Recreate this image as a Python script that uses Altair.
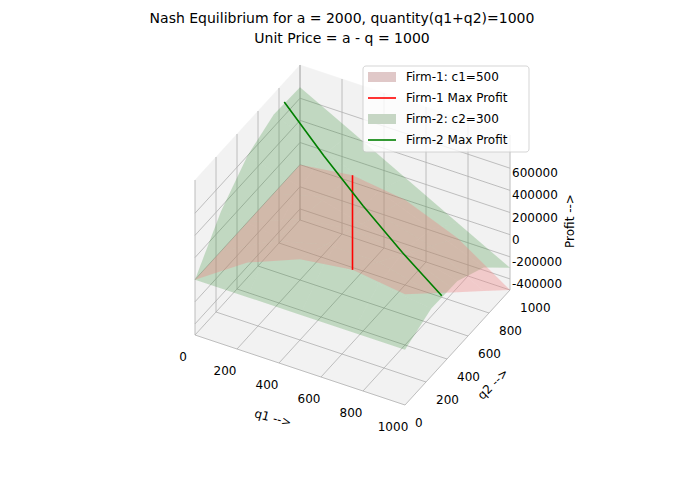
import altair as alt
import pandas as pd

Q = [0, 250, 500, 750, 1000]
# Firm-1 profit, rows q1, cols q2
P1 = [[0, 0, 0, 0, 0],
      [312500, 250000, 187500, 125000, 62500],
      [500000, 375000, 250000, 125000, 0],
      [562500, 375000, 187500, 0, -187500],
      [500000, 250000, 0, -250000, -500000]]
# Firm-2 profit, rows q2, cols q1
P2 = [[0, 0, 0, 0, 0],
      [362500, 300000, 237500, 175000, 112500],
      [600000, 475000, 350000, 225000, 100000],
      [712500, 525000, 337500, 150000, -37500],
      [700000, 450000, 200000, -50000, -300000]]
BR1_q2 = [0, 250, 500, 750, 1000]
BR1_q1 = [750, 625, 500, 375, 250]
BR1_p = [562500, 390625, 250000, 140625, 62500]
BR2_q1 = [0, 250, 500, 750, 1000]
BR2_q2 = [850, 725, 600, 475, 350]
BR2_p = [722500, 525625, 360000, 225625, 122500]
Q_TICKS = [0, 200, 400, 600, 800, 1000]
Z_TICKS = [-400000, -200000, 0, 200000, 400000, 600000]
ZMIN, ZMAX = -500000, 900000

W, H = 669, 464

def proj(q1, q2, z):
    u, v = q1 / 1000, q2 / 1000
    w = (z - ZMIN) / (ZMAX - ZMIN)
    return 187 + 210 * u + 105 * v, 327 + 70 * u - 115 * v - 155 * w

rows = []
def poly(pid, pts, kind):
    for k, (a, b, c) in enumerate(pts):
        x, y = proj(a, b, c)
        rows.append(dict(pid=pid, o=k, x=x, y=y, kind=kind))

poly("pane_floor", [(0,0,ZMIN),(1000,0,ZMIN),(1000,1000,ZMIN),(0,1000,ZMIN),(0,0,ZMIN)], "pane")
poly("pane_left", [(0,0,ZMIN),(0,1000,ZMIN),(0,1000,ZMAX),(0,0,ZMAX),(0,0,ZMIN)], "pane")
poly("pane_back", [(0,1000,ZMIN),(1000,1000,ZMIN),(1000,1000,ZMAX),(0,1000,ZMAX),(0,1000,ZMIN)], "pane")
panes = pd.DataFrame(rows); rows.clear()

for t in Q_TICKS:
    poly(f"g1{t}", [(t,0,ZMIN),(t,1000,ZMIN),(t,1000,ZMAX)], "grid")
    poly(f"g2{t}", [(0,t,ZMIN),(1000,t,ZMIN)], "grid")
    poly(f"g3{t}", [(0,t,ZMIN),(0,t,ZMAX)], "grid")
for t in Z_TICKS:
    poly(f"gz{t}", [(0,0,t),(0,1000,t),(1000,1000,t)], "grid")
grid = pd.DataFrame(rows); rows.clear()

for i in range(4):
    for j in range(4):
        poly(f"f1_{i}_{j}", [(Q[i],Q[j],P1[i][j]),(Q[i+1],Q[j],P1[i+1][j]),(Q[i+1],Q[j+1],P1[i+1][j+1]),(Q[i],Q[j+1],P1[i][j+1]),(Q[i],Q[j],P1[i][j])], "f1")
s1 = pd.DataFrame(rows); rows.clear()
for i in range(4):
    for j in range(4):
        poly(f"f2_{i}_{j}", [(Q[i],Q[j],P2[j][i]),(Q[i+1],Q[j],P2[j][i+1]),(Q[i+1],Q[j+1],P2[j+1][i+1]),(Q[i],Q[j+1],P2[j+1][i]),(Q[i],Q[j],P2[j][i])], "f2")
s2 = pd.DataFrame(rows); rows.clear()

poly("br1", list(zip(BR1_q1, BR1_q2, BR1_p)), "br1")
br1 = pd.DataFrame(rows); rows.clear()
poly("br2", list(zip(BR2_q1, BR2_q2, BR2_p)), "br2")
br2 = pd.DataFrame(rows); rows.clear()

xs = alt.Scale(domain=[0, W], nice=False, zero=False)
ys = alt.Scale(domain=[0, H], nice=False, zero=False, reverse=True)
X = alt.X("x:Q", scale=xs, axis=None)
Y = alt.Y("y:Q", scale=ys, axis=None)

def polys(df, fill, op, stroke=None, sw=0):
    kw = dict(fill=fill, fillOpacity=op, strokeWidth=sw)
    kw["stroke"] = stroke if stroke else fill
    return alt.Chart(df).mark_line(**kw).encode(X, Y, detail="pid:N", order="o:Q")

layers = [
    polys(panes, "#f2f2f2", 1.0, "#f2f2f2", 0.5),
    alt.Chart(grid).mark_line(color="#b0b0b0", strokeWidth=0.8).encode(X, Y, detail="pid:N", order="o:Q"),
    polys(s2, "#2e8b2e", 0.25, "#2e8b2e", 0.0),
    polys(s1, "#f08080", 0.35, "#f08080", 0.0),
    alt.Chart(br1).mark_line(color="red", strokeWidth=1.6).encode(X, Y, order="o:Q"),
    alt.Chart(br2).mark_line(color="green", strokeWidth=1.6).encode(X, Y, order="o:Q"),
]

lab = []
for t in Q_TICKS:
    x, y = proj(t, 0, ZMIN)
    lab.append(dict(x=x - 12, y=y + 22, t=str(t), a="center"))
    x, y = proj(1000, t, ZMIN)
    lab.append(dict(x=x + 10, y=y + 18, t=str(t), a="left"))
for t in Z_TICKS:
    x, y = proj(1000, 1000, t)
    lab.append(dict(x=x + 2, y=y + 5, t=str(t), a="left"))
labdf = pd.DataFrame(lab)
for a in ["center", "left"]:
    layers.append(alt.Chart(labdf[labdf.a == a]).mark_text(align=a, fontSize=12, font="DejaVu Sans", color="black")
                  .encode(X, Y, text="t:N"))

ax = pd.DataFrame([dict(x=265, y=410, t="q1 -->", ang=15), dict(x=485, y=376, t="q2 -->", ang=-45),
                   dict(x=562, y=213, t="Profit -->", ang=-90)])
for _, r in ax.iterrows():
    layers.append(alt.Chart(ax[ax.t == r.t]).mark_text(fontSize=12, font="DejaVu Sans", angle=(r.ang % 360))
                  .encode(X, Y, text="t:N"))

title = pd.DataFrame([dict(x=334, y=11, t="Nash Equilibrium for a = 2000, quantity(q1+q2)=1000"),
                      dict(x=334, y=31, t="Unit Price = a - q = 1000")])
layers.append(alt.Chart(title).mark_text(fontSize=14, font="DejaVu Sans").encode(X, Y, text="t:N"))

leg_names = ["Firm-1: c1=500", "Firm-1 Max Profit", "Firm-2: c2=300", "Firm-2 Max Profit"]
leg_y = [69, 90, 111, 132]
layers.append(alt.Chart(pd.DataFrame([0])).mark_rect(fill="white", opacity=0.8, stroke="#cccccc", cornerRadius=3).encode(
    x=alt.value(355), x2=alt.value(521), y=alt.value(58), y2=alt.value(144)))
layers.append(alt.Chart(pd.DataFrame([0])).mark_rect(fill="#e0c8c8").encode(
    x=alt.value(360), x2=alt.value(388), y=alt.value(64), y2=alt.value(74)))
layers.append(alt.Chart(pd.DataFrame([0])).mark_rule(color="red", strokeWidth=1.6).encode(
    x=alt.value(360), x2=alt.value(388), y=alt.value(90)))
layers.append(alt.Chart(pd.DataFrame([0])).mark_rect(fill="#c6d6c4").encode(
    x=alt.value(360), x2=alt.value(388), y=alt.value(106), y2=alt.value(116)))
layers.append(alt.Chart(pd.DataFrame([0])).mark_rule(color="green", strokeWidth=1.6).encode(
    x=alt.value(360), x2=alt.value(388), y=alt.value(132)))
for name, yy in zip(leg_names, leg_y):
    layers.append(alt.Chart(pd.DataFrame([dict(t=name)])).mark_text(align="left", baseline="middle", fontSize=12, font="DejaVu Sans").encode(
        x=alt.value(398), y=alt.value(yy), text="t:N"))

chart = alt.layer(*layers).properties(width=W, height=H, padding=0,
    autosize=alt.AutoSizeParams(type="none")).configure_view(stroke=None)
chart.save("out.html", embed_options={"renderer": "svg", "actions": False})
